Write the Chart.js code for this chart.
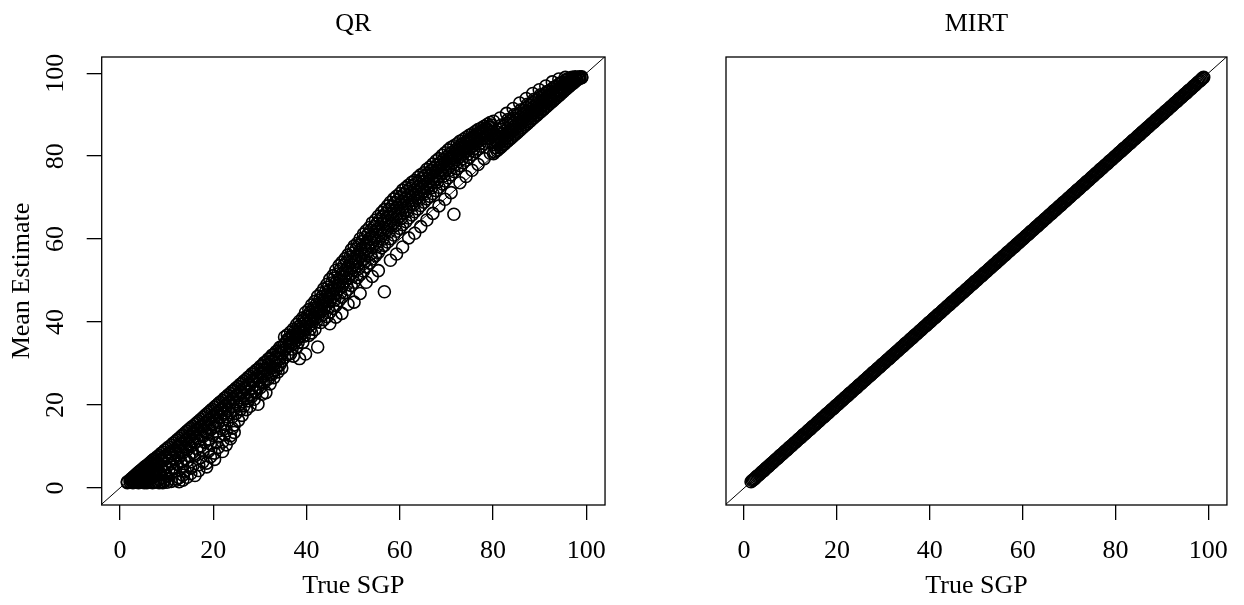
<!DOCTYPE html>
<html>
<head>
<meta charset="utf-8">
<script src="https://cdn.jsdelivr.net/npm/chart.js@4"></script>
<style>
  body { margin: 0; background: #fff; }
  #wrap { position: relative; width: 1244px; height: 605px; }
  .panel { position: absolute; top: 0; }
</style>
</head>
<body>
<div id="wrap">
  <canvas id="qrChart" class="panel" style="left:0" width="622" height="605"></canvas>
  <canvas id="mirtChart" class="panel" style="left:622px" width="622" height="605"></canvas>
</div>
<script>
// axis ticks (both panels)
const tickVals = [0, 20, 40, 60, 80, 100];
// reference line y = x, spans past both axes and is clipped
const refLine = [-10, 110];

// QR panel: true SGP (one entry per column) and the mean estimates seen above it
const qrTrue = [
  1.6, 2.2, 2.8, 3.4, 4.0, 4.6, 5.2, 5.8, 6.4, 7.0, 7.6,
  8.4, 9.2, 10.1, 11.0, 11.9, 12.7, 13.5, 14.4, 15.2, 16.1, 16.9, 17.8, 18.6, 19.4, 20.3,
  21.1, 22.0, 22.8, 23.7, 24.5, 25.4, 26.2, 27.1, 27.9, 28.8, 29.6, 30.5, 31.3, 32.2, 33.0, 33.9, 34.7,
  35.3, 35.9, 36.6, 37.2, 37.9, 38.5, 39.2, 39.8, 40.5, 41.1, 41.8, 42.4, 43.1, 43.7, 44.4,
  45.0, 45.7, 46.3, 47.0, 47.6, 48.3, 48.9, 49.6, 50.2, 50.9, 51.5, 52.2, 52.8, 53.5, 54.1,
  54.8, 55.4, 56.1, 56.7, 57.4, 58.0, 58.7, 59.3, 60.0, 60.6, 61.3, 61.9, 62.6, 63.2, 63.9,
  64.5, 65.2, 65.8, 66.5, 67.1, 67.8, 68.4, 69.1, 69.7, 70.4, 71.0, 71.6, 72.3, 72.9, 73.6,
  74.2, 74.9, 75.5, 76.2, 76.8, 77.5, 78.1, 78.8, 79.4,
  80.1, 80.8, 81.5, 82.2, 82.9, 83.6, 84.3, 85.0, 85.7, 86.4, 87.1, 87.8, 88.5, 89.2,
  89.9, 90.6, 91.3, 92.0, 92.7, 93.4, 94.1, 94.8, 95.5, 96.2, 96.9, 97.6, 98.3, 99.0
];
const qrEst = [
  [1.5, 1.3], [2.0, 1.4], [2.6, 1.9, 1.3], [3.2, 2.3, 1.4], [3.8, 2.8, 1.8, 1.3],
  [4.3, 3.3, 2.2, 1.4], [4.9, 3.8, 2.7, 1.6, 1.3], [5.4, 4.2, 3.1, 2.0, 1.3],
  [6.0, 4.8, 3.4, 2.2, 1.4], [6.6, 5.3, 3.9, 2.6, 1.3], [7.1, 5.7, 4.3, 2.9, 1.5],
  [7.8, 5.9, 3.9, 2.0, 1.3], [8.6, 6.5, 4.4, 2.4, 1.3], [9.5, 7.4, 5.1, 2.9, 1.4],
  [10.3, 8.3, 6.0, 3.6, 1.6], [11.2, 9.1, 6.8, 4.2, 1.8], [12.0, 9.9, 7.4, 2.5, 1.5],
  [12.8, 10.8, 8.5, 5.3, 3.1, 1.9], [13.7, 11.6, 9.2, 6.5, 2.6], [14.5, 12.4, 10.0, 4.8, 3.5],
  [15.3, 13.2, 10.9, 7.7, 3.0], [16.1, 14.0, 11.5, 5.6, 4.2], [17.0, 14.9, 12.4, 8.9, 6.3],
  [17.8, 15.6, 13.3, 6.0, 5.1], [18.6, 16.5, 14.0, 10.6, 7.5], [19.5, 17.3, 14.8, 8.4, 6.9],
  [20.3, 18.1, 15.7, 12.3, 9.8], [21.1, 19.0, 16.4, 11.1, 8.8], [21.9, 19.8, 17.2, 13.8, 10.4],
  [22.8, 20.6, 18.1, 12.6, 11.9], [23.6, 21.4, 19.0, 15.2, 13.4], [24.5, 22.3, 19.9, 16.3],
  [25.3, 23.0, 20.8, 17.5], [26.2, 24.0, 21.6, 18.9], [27.0, 24.8, 22.5, 19.7],
  [27.9, 25.7, 23.4, 21.4], [28.7, 26.5, 24.3, 20.2], [29.6, 27.5, 25.4, 22.6],
  [30.4, 28.4, 26.2, 23.0], [31.3, 29.3, 27.4, 25.1], [32.2, 30.4, 28.3, 26.6],
  [33.1, 31.4, 29.5, 28.0], [34.0, 32.5, 30.6, 28.9],
  [36.4, 34.6, 33.2, 31.5], [35.8, 34.0, 32.2, 36.9], [37.6, 35.9, 34.3, 32.4],
  [38.3, 36.5, 34.8, 31.8], [39.4, 37.2, 35.6, 33.9], [40.2, 38.3, 36.4, 31.2],
  [41.0, 39.0, 37.3, 35.1], [42.3, 40.1, 38.2, 32.3], [43.0, 41.1, 39.0, 36.8],
  [44.1, 41.8, 39.6, 37.4], [45.0, 42.9, 40.8, 38.2], [46.2, 43.7, 41.3, 34.0],
  [47.0, 44.6, 42.5, 39.9], [48.0, 45.3, 43.1, 40.6], [49.1, 46.6, 44.2, 41.3],
  [50.3, 47.6, 45.0, 42.4, 39.6], [51.2, 48.4, 46.1, 43.3], [52.5, 49.5, 46.9, 44.0, 41.2],
  [53.6, 50.4, 48.0, 45.2], [54.4, 51.6, 48.7, 46.0, 42.1], [55.3, 52.4, 49.9, 47.1],
  [56.2, 53.4, 50.6, 47.9, 44.3], [57.4, 54.5, 51.7, 48.8], [58.3, 55.3, 52.6, 49.6, 44.8],
  [59.0, 56.2, 53.5, 50.7], [60.1, 57.4, 54.3, 51.4, 46.9], [61.2, 58.0, 55.1, 52.3],
  [62.0, 59.1, 56.4, 53.3, 49.6], [62.8, 60.0, 57.3, 54.2], [63.9, 60.7, 58.1, 55.2, 51.0],
  [64.6, 61.8, 59.0, 56.0], [65.5, 62.5, 59.6, 56.8, 52.4], [66.4, 63.7, 60.8, 57.9],
  [67.1, 64.2, 61.4, 58.5, 47.3], [68.0, 65.1, 62.3, 59.3], [68.9, 66.0, 63.2, 60.1, 54.9],
  [69.7, 66.7, 63.9, 61.0], [70.3, 67.6, 64.8, 61.9, 56.4], [71.0, 68.4, 65.5, 62.6],
  [71.8, 69.0, 66.3, 63.5, 58.1], [72.4, 69.8, 67.0, 64.2], [73.0, 70.6, 67.8, 65.1, 60.3],
  [73.7, 71.2, 68.5, 65.8], [74.1, 71.8, 69.3, 66.6, 61.4], [74.9, 72.6, 70.0, 67.3],
  [75.5, 73.2, 70.8, 68.1, 63.0], [76.0, 73.9, 71.4, 68.9], [76.8, 74.5, 72.2, 69.7, 64.6],
  [77.4, 75.3, 72.9, 70.3], [78.1, 75.9, 73.6, 71.0, 66.2], [78.9, 76.6, 74.3, 71.7],
  [79.4, 77.3, 75.0, 72.5, 68.0], [80.2, 77.9, 75.8, 73.3], [80.8, 78.7, 76.4, 74.0, 69.6],
  [81.5, 79.4, 77.1, 74.8], [82.1, 80.0, 77.8, 75.5, 71.2], [82.5, 80.6, 78.5, 76.3, 66.0],
  [83.0, 81.3, 79.2, 77.0], [83.6, 81.8, 79.8, 77.7, 73.6], [84.0, 82.4, 80.5, 78.4],
  [84.5, 83.0, 81.1, 79.0, 75.1], [85.0, 83.5, 81.7, 79.7], [85.4, 84.0, 82.3, 80.4, 76.6],
  [85.9, 84.5, 82.9, 81.1], [86.4, 85.0, 83.5, 81.7, 78.0], [86.8, 85.5, 84.1, 82.4],
  [87.2, 86.0, 84.6, 83.0, 79.4], [87.7, 86.5, 85.1, 83.6], [88.1, 87.0, 85.7, 84.2, 80.7],
  [80.6, 82.8, 85.0, 88.4], [81.3, 83.5, 85.8], [82.0, 84.2, 86.5, 89.2], [82.7, 84.9, 87.2],
  [83.4, 85.6, 87.9, 90.3], [84.1, 86.3, 88.5], [84.8, 87.0, 89.1, 91.5], [85.5, 87.7, 89.8],
  [86.2, 88.4, 90.4, 92.8], [86.9, 89.0, 91.0], [87.6, 89.7, 91.7, 93.9], [88.3, 90.3, 92.3],
  [89.0, 91.0, 92.9, 95.1], [89.7, 91.6, 93.5], [90.4, 92.2, 94.1, 96.0], [91.1, 92.9, 94.6],
  [91.8, 93.5, 95.1, 96.9], [92.5, 94.1, 95.7], [93.2, 94.7, 96.2, 97.9], [93.9, 95.3, 96.8],
  [94.6, 95.9, 97.3, 98.6], [95.3, 96.5, 97.8], [96.0, 97.1, 98.3, 99.0], [96.7, 97.7, 98.7],
  [97.4, 98.3, 99.0], [98.0, 98.7, 99.1], [98.6, 99.0], [99.1, 98.9]
];

// QR panel: the dark core of the cloud, read in between the columns above
const qrCoreTrue = [
  2.5, 3.1, 3.7, 4.3, 4.9, 5.5, 6.1, 6.7, 7.3, 8.0, 8.8, 9.6, 10.5, 11.4, 12.3, 13.1, 14.0, 14.8,
  15.6, 16.5, 17.3, 18.2, 19.0, 19.8, 20.7, 21.5, 22.4, 23.2, 24.1, 24.9, 25.8, 26.6, 27.5, 28.3,
  29.2, 30.1, 30.9, 31.8, 32.6, 33.5, 34.3,
  35.6, 36.3, 36.9, 37.6, 38.2, 38.9, 39.5, 40.2, 40.8, 41.5, 42.1, 42.8, 43.4, 44.1, 44.7, 45.4,
  46.0, 46.7, 47.3, 48.0, 48.6, 49.3, 49.9, 50.6, 51.2, 51.9, 52.5, 53.2, 53.8, 54.5, 55.1, 55.8,
  56.4, 57.1, 57.7, 58.4, 59.0, 59.7, 60.3, 61.0, 61.6, 62.3, 62.9, 63.6, 64.2, 64.9, 65.5, 66.2,
  66.8, 67.5, 68.1, 68.8, 69.4, 70.1, 70.7, 71.3, 72.0, 72.6, 73.3, 73.9, 74.6, 75.2, 75.9, 76.5,
  77.2, 77.8, 78.5, 79.1, 79.7,
  80.4, 81.1, 81.8, 82.5, 83.2, 83.9, 84.6, 85.3, 86.0, 86.7, 87.4, 88.1, 88.8, 89.5, 90.2, 90.9,
  91.6, 92.3, 93.0, 93.7, 94.4, 95.1, 95.8, 96.5, 97.2, 97.9, 98.6
];
const qrCoreEst = [
  [2.3, 1.6], [2.9, 2.0, 1.5], [3.5, 2.5, 1.6], [4.1, 3.0, 2.0], [4.6, 3.5, 2.4, 1.5],
  [5.2, 4.0, 2.9, 1.8], [5.7, 4.5, 3.3, 2.1], [6.3, 5.0, 3.7, 2.4], [6.9, 5.5, 4.1, 2.8, 1.4],
  [7.5, 6.1, 4.6, 3.1, 1.6], [8.3, 6.8, 5.2, 3.4, 1.5], [9.1, 7.5, 5.8, 3.8, 1.8],
  [9.9, 8.3, 6.5, 4.4, 2.1], [10.8, 9.1, 7.2, 5.0], [11.6, 9.9, 8.0, 5.7, 2.2], [12.4, 10.7, 8.8, 6.3],
  [13.3, 11.5, 9.6, 7.1, 4.1], [14.1, 12.3, 10.4, 7.8], [14.9, 13.1, 11.2, 8.6, 5.3],
  [15.7, 14.0, 12.0, 9.4], [16.5, 14.8, 12.8, 10.1, 7.3], [17.4, 15.6, 13.7, 11.0],
  [18.2, 16.4, 14.5, 11.8, 8.9], [19.0, 17.2, 15.3, 12.7], [19.9, 18.1, 16.1, 13.5, 10.9],
  [20.7, 18.9, 17.0, 14.4], [21.6, 19.8, 17.8, 15.3, 12.8], [22.4, 20.6, 18.7, 16.2],
  [23.3, 21.5, 19.6, 17.1, 14.4], [24.1, 22.3, 20.4, 18.0], [25.0, 23.2, 21.3, 18.9],
  [25.8, 24.1, 22.2, 19.8], [26.7, 25.0, 23.1, 21.0], [27.5, 25.9, 24.0, 22.1],
  [28.4, 26.8, 25.0, 23.1], [29.3, 27.7, 26.0, 24.2], [30.2, 28.7, 27.0, 25.3],
  [31.1, 29.7, 28.0, 26.3], [32.0, 30.6, 29.0, 27.4], [32.9, 31.6, 30.1, 28.5], [33.9, 32.7, 31.2, 29.7],
  [35.2, 33.6], [36.1, 34.7], [36.8, 35.3, 33.5], [37.9, 36.2], [38.8, 37.0, 35.0], [39.5, 37.8],
  [40.6, 38.6, 36.6], [41.5, 39.6], [42.4, 40.4, 38.3], [43.3, 41.2], [44.2, 42.2, 40.0], [45.3, 43.0],
  [46.2, 44.0, 41.8], [47.3, 45.0], [48.4, 46.0, 43.5], [49.4, 46.8], [50.6, 47.9, 45.3], [51.6, 48.8],
  [52.7, 49.8, 47.0], [53.7, 50.9], [54.5, 51.8, 49.0], [55.6, 52.8], [56.6, 53.8, 51.0], [57.6, 54.7],
  [58.5, 55.8, 52.9], [59.4, 56.6], [60.4, 57.6, 54.6], [61.2, 58.5], [62.1, 59.3, 56.4], [63.0, 60.3],
  [63.8, 61.1, 58.2], [64.8, 62.0], [65.6, 62.9, 60.0], [66.3, 63.7], [67.2, 64.5, 61.7], [68.0, 65.4],
  [68.8, 66.2, 63.3], [69.5, 67.0], [70.2, 67.8, 65.0], [70.9, 68.6], [71.6, 69.3, 66.6], [72.2, 70.0],
  [72.9, 70.6, 68.2], [73.5, 71.4], [74.0, 72.0, 69.6], [74.7, 72.7], [75.3, 73.3, 71.0], [75.9, 74.0],
  [76.6, 74.6, 72.4], [77.2, 75.3], [77.9, 76.0, 73.8], [78.5, 76.7], [79.2, 77.4, 75.2], [79.8, 78.1],
  [80.5, 78.8, 76.6], [81.0, 79.4], [81.6, 80.0, 78.0], [82.2, 80.6], [82.8, 81.2, 79.3], [83.3, 81.8],
  [83.8, 82.4, 80.5], [84.3, 83.0], [84.8, 83.5, 81.8], [85.3, 84.0], [85.8, 84.6, 83.1], [86.2, 85.1],
  [86.7, 85.6, 84.3], [87.1, 86.1], [87.5, 86.6, 85.2],
  [81.0, 82.1, 83.9], [81.6, 82.9, 84.6], [82.3, 83.6, 85.3, 87.5], [83.0, 84.3, 86.0],
  [83.7, 85.0, 86.7, 88.8], [84.4, 85.7, 87.4], [85.1, 86.4, 88.1, 90.0], [85.8, 87.1, 88.8],
  [86.5, 87.8, 89.4, 91.2], [87.2, 88.5, 90.0], [87.9, 89.1, 90.7, 92.5], [88.6, 89.8, 91.3],
  [89.3, 90.5, 91.9, 93.7], [90.0, 91.1, 92.5], [90.7, 91.8, 93.1, 94.8], [91.4, 92.4, 93.7],
  [92.1, 93.1, 94.3, 95.6], [92.8, 93.7, 94.9], [93.5, 94.3, 95.4, 96.6], [94.2, 95.0, 96.0],
  [94.9, 95.6, 96.6, 97.6], [95.6, 96.3, 97.2], [96.3, 97.0, 97.8, 98.5], [97.0, 97.6, 98.3],
  [97.6, 98.2, 98.8], [98.3, 98.8], [98.8, 99.1]
];

// MIRT panel: estimates sit on the diagonal
const mirtTrue = [
  1.5, 1.75, 2, 2.25, 2.5, 2.75, 3, 3.25, 3.5, 3.75, 4, 4.25, 4.5, 4.75, 5, 5.25, 5.5, 5.75, 6, 6.25,
  6.5, 6.75, 7, 7.25, 7.5, 7.75, 8, 8.25, 8.5, 8.75, 9, 9.25, 9.5, 9.75, 10, 10.25, 10.5, 10.75,
  11, 11.25, 11.5, 11.75, 12, 12.25, 12.5, 12.75, 13, 13.25, 13.5, 13.75, 14, 14.25, 14.5, 14.75,
  15, 15.25, 15.5, 15.75, 16, 16.25, 16.5, 16.75, 17, 17.25, 17.5, 17.75, 18, 18.25, 18.5, 18.75,
  19, 19.25, 19.5, 19.75, 20, 20.25, 20.5, 20.75,
  21, 21.25, 21.5, 21.75, 22, 22.25, 22.5, 22.75, 23, 23.25, 23.5, 23.75, 24, 24.25, 24.5, 24.75,
  25, 25.25, 25.5, 25.75, 26, 26.25, 26.5, 26.75, 27, 27.25, 27.5, 27.75, 28, 28.25, 28.5, 28.75,
  29, 29.25, 29.5, 29.75, 30, 30.25, 30.5, 30.75,
  31, 31.25, 31.5, 31.75, 32, 32.25, 32.5, 32.75, 33, 33.25, 33.5, 33.75, 34, 34.25, 34.5, 34.75,
  35, 35.25, 35.5, 35.75, 36, 36.25, 36.5, 36.75, 37, 37.25, 37.5, 37.75, 38, 38.25, 38.5, 38.75,
  39, 39.25, 39.5, 39.75, 40, 40.25, 40.5, 40.75,
  41, 41.25, 41.5, 41.75, 42, 42.25, 42.5, 42.75, 43, 43.25, 43.5, 43.75, 44, 44.25, 44.5, 44.75,
  45, 45.25, 45.5, 45.75, 46, 46.25, 46.5, 46.75, 47, 47.25, 47.5, 47.75, 48, 48.25, 48.5, 48.75,
  49, 49.25, 49.5, 49.75, 50, 50.25, 50.5, 50.75,
  51, 51.25, 51.5, 51.75, 52, 52.25, 52.5, 52.75, 53, 53.25, 53.5, 53.75, 54, 54.25, 54.5, 54.75,
  55, 55.25, 55.5, 55.75, 56, 56.25, 56.5, 56.75, 57, 57.25, 57.5, 57.75, 58, 58.25, 58.5, 58.75,
  59, 59.25, 59.5, 59.75, 60, 60.25, 60.5, 60.75,
  61, 61.25, 61.5, 61.75, 62, 62.25, 62.5, 62.75, 63, 63.25, 63.5, 63.75, 64, 64.25, 64.5, 64.75,
  65, 65.25, 65.5, 65.75, 66, 66.25, 66.5, 66.75, 67, 67.25, 67.5, 67.75, 68, 68.25, 68.5, 68.75,
  69, 69.25, 69.5, 69.75, 70, 70.25, 70.5, 70.75,
  71, 71.25, 71.5, 71.75, 72, 72.25, 72.5, 72.75, 73, 73.25, 73.5, 73.75, 74, 74.25, 74.5, 74.75,
  75, 75.25, 75.5, 75.75, 76, 76.25, 76.5, 76.75, 77, 77.25, 77.5, 77.75, 78, 78.25, 78.5, 78.75,
  79, 79.25, 79.5, 79.75, 80, 80.25, 80.5, 80.75,
  81, 81.25, 81.5, 81.75, 82, 82.25, 82.5, 82.75, 83, 83.25, 83.5, 83.75, 84, 84.25, 84.5, 84.75,
  85, 85.25, 85.5, 85.75, 86, 86.25, 86.5, 86.75, 87, 87.25, 87.5, 87.75, 88, 88.25, 88.5, 88.75,
  89, 89.25, 89.5, 89.75, 90, 90.25, 90.5, 90.75,
  91, 91.25, 91.5, 91.75, 92, 92.25, 92.5, 92.75, 93, 93.25, 93.5, 93.75, 94, 94.25, 94.5, 94.75,
  95, 95.25, 95.5, 95.75, 96, 96.25, 96.5, 96.75, 97, 97.25, 97.5, 97.75, 98, 98.25, 98.5, 98.75, 99
];
const mirtEst = [
  1.5, 1.8, 2.0, 2.2, 2.5, 2.8, 3.0, 3.2, 3.5, 3.8, 4.0, 4.2, 4.5, 4.8, 5.0, 5.2, 5.5, 5.8, 6.0, 6.2,
  6.5, 6.8, 7.0, 7.2, 7.5, 7.8, 8.0, 8.2, 8.5, 8.8, 9.0, 9.2, 9.5, 9.8, 10.0, 10.2, 10.5, 10.8,
  11.0, 11.2, 11.5, 11.8, 12.0, 12.2, 12.5, 12.8, 13.0, 13.2, 13.5, 13.8, 14.0, 14.2, 14.5, 14.8,
  15.0, 15.2, 15.5, 15.8, 16.0, 16.2, 16.5, 16.8, 17.0, 17.2, 17.5, 17.8, 18.0, 18.2, 18.5, 18.8,
  19.0, 19.2, 19.5, 19.8, 20.0, 20.2, 20.5, 20.8,
  21.0, 21.2, 21.5, 21.8, 22.0, 22.2, 22.5, 22.8, 23.0, 23.2, 23.5, 23.8, 24.0, 24.2, 24.5, 24.8,
  25.0, 25.2, 25.5, 25.8, 26.0, 26.2, 26.5, 26.8, 27.0, 27.2, 27.5, 27.8, 28.0, 28.2, 28.5, 28.8,
  29.0, 29.2, 29.5, 29.8, 30.0, 30.2, 30.5, 30.8,
  31.0, 31.2, 31.5, 31.8, 32.0, 32.2, 32.5, 32.8, 33.0, 33.2, 33.5, 33.8, 34.0, 34.2, 34.5, 34.8,
  35.0, 35.2, 35.5, 35.8, 36.0, 36.2, 36.5, 36.8, 37.0, 37.2, 37.5, 37.8, 38.0, 38.2, 38.5, 38.8,
  39.0, 39.2, 39.5, 39.8, 40.0, 40.2, 40.5, 40.8,
  41.0, 41.2, 41.5, 41.8, 42.0, 42.2, 42.5, 42.8, 43.0, 43.2, 43.5, 43.8, 44.0, 44.2, 44.5, 44.8,
  45.0, 45.2, 45.5, 45.8, 46.0, 46.2, 46.5, 46.8, 47.0, 47.2, 47.5, 47.8, 48.0, 48.2, 48.5, 48.8,
  49.0, 49.2, 49.5, 49.8, 50.0, 50.2, 50.5, 50.8,
  51.0, 51.2, 51.5, 51.8, 52.0, 52.2, 52.5, 52.8, 53.0, 53.2, 53.5, 53.8, 54.0, 54.2, 54.5, 54.8,
  55.0, 55.2, 55.5, 55.8, 56.0, 56.2, 56.5, 56.8, 57.0, 57.2, 57.5, 57.8, 58.0, 58.2, 58.5, 58.8,
  59.0, 59.2, 59.5, 59.8, 60.0, 60.2, 60.5, 60.8,
  61.0, 61.2, 61.5, 61.8, 62.0, 62.2, 62.5, 62.8, 63.0, 63.2, 63.5, 63.8, 64.0, 64.2, 64.5, 64.8,
  65.0, 65.2, 65.5, 65.8, 66.0, 66.2, 66.5, 66.8, 67.0, 67.2, 67.5, 67.8, 68.0, 68.2, 68.5, 68.8,
  69.0, 69.2, 69.5, 69.8, 70.0, 70.2, 70.5, 70.8,
  71.0, 71.2, 71.5, 71.8, 72.0, 72.2, 72.5, 72.8, 73.0, 73.2, 73.5, 73.8, 74.0, 74.2, 74.5, 74.8,
  75.0, 75.2, 75.5, 75.8, 76.0, 76.2, 76.5, 76.8, 77.0, 77.2, 77.5, 77.8, 78.0, 78.2, 78.5, 78.8,
  79.0, 79.2, 79.5, 79.8, 80.0, 80.2, 80.5, 80.8,
  81.0, 81.2, 81.5, 81.8, 82.0, 82.2, 82.5, 82.8, 83.0, 83.2, 83.5, 83.8, 84.0, 84.2, 84.5, 84.8,
  85.0, 85.2, 85.5, 85.8, 86.0, 86.2, 86.5, 86.8, 87.0, 87.2, 87.5, 87.8, 88.0, 88.2, 88.5, 88.8,
  89.0, 89.2, 89.5, 89.8, 90.0, 90.2, 90.5, 90.8,
  91.0, 91.2, 91.5, 91.8, 92.0, 92.2, 92.5, 92.8, 93.0, 93.2, 93.5, 93.8, 94.0, 94.2, 94.5, 94.8,
  95.0, 95.2, 95.5, 95.8, 96.0, 96.2, 96.5, 96.8, 97.0, 97.2, 97.5, 97.8, 98.0, 98.2, 98.5, 98.8, 99.0
];

const serif = "'Liberation Serif', 'Times New Roman', serif";
const font26 = { family: serif, size: 26, weight: 'normal', lineHeight: 1.2 };

// draw the full frame round the plot region, like R's box()
const boxPlugin = {
  id: 'box',
  afterDatasetsDraw(chart) {
    const a = chart.chartArea, ctx = chart.ctx;
    ctx.save();
    ctx.strokeStyle = '#000';
    ctx.lineWidth = 1.3;
    ctx.strokeRect(a.left, a.top, a.right - a.left, a.bottom - a.top);
    ctx.restore();
  }
};

function makePanel(id, title, points, showY, padLeft, padRight) {
  return new Chart(document.getElementById(id), {
    type: 'scatter',
    data: {
      datasets: [
        {
          type: 'line',
          data: refLine.map(v => ({ x: v, y: v })),
          borderColor: '#000',
          borderWidth: 1,
          pointRadius: 0,
          fill: false
        },
        {
          data: points,
          pointStyle: 'circle',
          pointRadius: 6,
          borderWidth: 1.6,
          borderColor: '#000',
          backgroundColor: 'rgba(0,0,0,0)'
        }
      ]
    },
    options: {
      responsive: false,
      animation: false,
      events: [],
      layout: { padding: { left: padLeft, right: padRight, top: 0, bottom: 0 } },
      plugins: {
        legend: { display: false },
        tooltip: { enabled: false },
        title: {
          display: true,
          text: title,
          color: '#000',
          font: font26,
          fullSize: false,
          padding: { top: 8.4, bottom: 17.4 }
        }
      },
      scales: {
        x: {
          type: 'linear',
          min: -3.9,
          max: 104,
          afterBuildTicks: s => { s.ticks = tickVals.map(v => ({ value: v })); },
          afterFit: s => { s.height = 100; },
          grid: { drawOnChartArea: false, drawTicks: true, tickLength: 15, color: '#000', lineWidth: 1.3 },
          border: { display: false },
          ticks: { color: '#000', font: font26, padding: 15.5, maxRotation: 0, autoSkip: false },
          title: { display: true, text: 'True SGP', color: '#000', font: font26, padding: { top: 0, bottom: 3.2 } }
        },
        y: {
          type: 'linear',
          display: showY,
          min: -4.1,
          max: 103.9,
          afterBuildTicks: s => { s.ticks = tickVals.map(v => ({ value: v })); },
          afterFit: s => { s.width = showY ? 101.7 : 0; },
          grid: { drawOnChartArea: false, drawTicks: true, tickLength: 15, color: '#000', lineWidth: 1.3 },
          border: { display: false },
          ticks: { color: '#000', font: font26, padding: 11, minRotation: 90, maxRotation: 90, crossAlign: 'center', autoSkip: false },
          title: { display: true, text: 'Mean Estimate', color: '#000', font: font26, padding: { top: 6.6, bottom: 0 } }
        }
      }
    },
    plugins: [boxPlugin]
  });
}

const qrPoints = qrTrue.flatMap((x, i) => qrEst[i].map(y => ({ x, y })))
  .concat(qrCoreTrue.flatMap((x, i) => qrCoreEst[i].map(y => ({ x, y }))));
const mirtPoints = mirtTrue.map((x, i) => ({ x, y: mirtEst[i] }));

makePanel('qrChart', 'QR', qrPoints, true, 0, 14.3);
makePanel('mirtChart', 'MIRT', mirtPoints, false, 104, 11.7);
</script>
</body>
</html>
